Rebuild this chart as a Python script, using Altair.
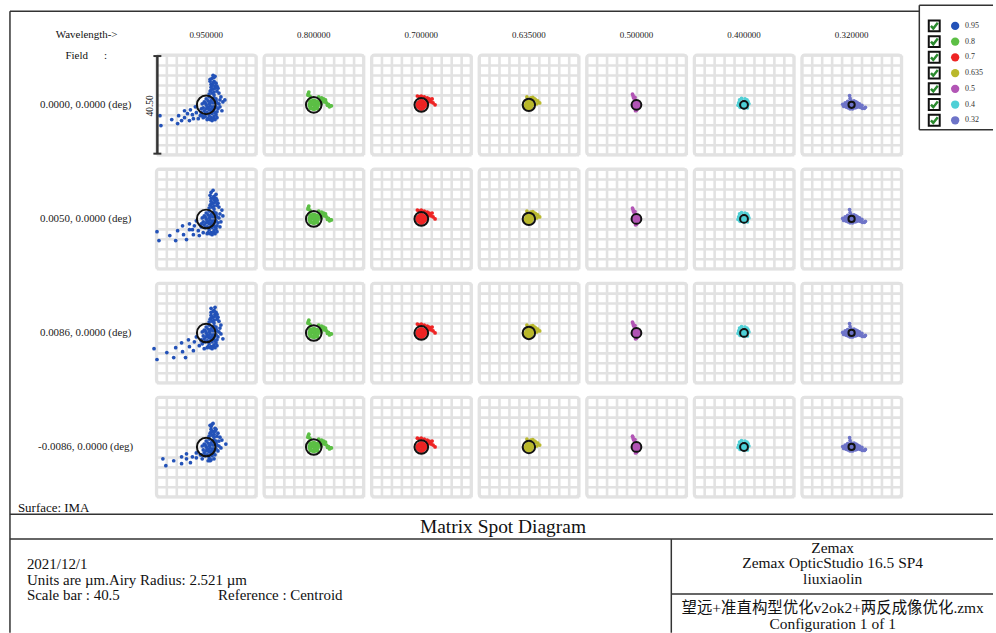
import altair as alt
import pandas as pd

# ---------------------------------------------------------------- data
WAVELENGTHS = [0.95, 0.8, 0.7, 0.635, 0.5, 0.4, 0.32]
WAVE_HEADERS = [f"{w:.6f}" for w in WAVELENGTHS]
LEGEND_LABELS = ["0.95", "0.8", "0.7", "0.635", "0.5", "0.4", "0.32"]
SPOT_COLORS = ["#2352b8", "#5cbf45", "#ee2424", "#b9b82c", "#b255b5", "#4fd0d6", "#6e74c8"]
FIELDS = [
    "0.0000, 0.0000 (deg)",
    "0.0050, 0.0000 (deg)",
    "0.0086, 0.0000 (deg)",
    "-0.0086, 0.0000 (deg)",
]

SCALE_BAR = 40.5      # µm spanned by one box
AIRY_RADIUS = 2.521   # µm at the primary wavelength
PRIMARY_WL = 0.635

# ray intercepts (x, y) in µm relative to the centroid, 0.95 µm, one list per field
SPOTS_095 = [
    [(-18.4, -8.4), (-18.8, -4.4), (-14.0, -6.0), (-11.6, -7.6), (-11.2, -4.4), (-8.8, -2.4),
     (-8.8, -5.2), (-6.8, -6.4), (-6.4, -2.0), (-5.6, -4.0), (-4.4, -0.8), (-4.0, -3.2),
     (-2.4, -4.4), (-2.0, -1.6), (-1.2, -5.2), (-3.2, -5.6), (-7.6, -3.6), (-10.0, -6.4),
     (-5.2, -5.6), (0.0, 0.0), (0.8, -1.2), (1.6, 0.8), (2.0, -2.0), (2.4, -3.6), (1.2, -4.4),
     (3.2, -4.8), (4.0, -4.0), (0.4, -3.2), (-0.8, -2.4), (2.8, -0.8), (3.6, 1.2), (2.4, 2.4),
     (1.2, 3.2), (3.2, 4.0), (4.0, 2.4), (4.8, -1.6), (5.2, 0.4), (4.4, -5.2), (2.0, -5.2),
     (-0.4, -4.8), (1.6, -0.4), (0.8, 1.6), (2.8, 0.8), (1.6, 5.6), (2.8, 6.4), (3.6, 7.6),
     (2.0, 8.4), (3.2, 9.6), (2.4, 10.8), (1.6, 10.4), (4.0, 8.8), (4.8, 6.8), (5.2, 4.8),
     (6.0, 3.2), (6.8, 1.2), (5.6, -0.8), (6.4, -2.4), (7.6, 2.0), (2.0, 7.2), (1.2, 4.4),
     (4.4, 5.6), (3.6, 11.6), (2.4, 8.0),
     (0.4, -0.8), (1.2, -2.0), (2.0, -3.0), (3.0, -2.4), (3.6, -3.2), (4.4, -2.8), (0.8, -5.6),
     (1.6, -6.0), (2.8, -5.6), (3.6, -6.0), (-1.2, -1.2), (-1.6, 0.4), (-0.8, 1.2), (0.0, 2.4),
     (-0.4, -3.6), (1.2, -1.6), (2.4, 4.8), (3.2, 5.2), (2.0, 6.0), (3.6, 6.8), (2.8, 8.8),
     (4.4, 7.6), (1.6, 9.6), (3.2, 11.2), (2.8, 12.0), (0.0, -1.6), (-0.4, 0.8), (1.2, 0.4),
     (2.4, -1.2), (3.2, -1.6), (4.0, -0.8), (4.4, 0.8), (3.2, 2.8), (2.0, 1.6), (-2.0, -3.2),
     (-1.6, -4.4), (0.4, -6.0), (2.4, -6.4), (4.0, 1.6), (5.6, 2.0)],
    [(-20.0, -5.2), (-19.2, -8.8), (-14.8, -6.8), (-12.4, -8.8), (-11.6, -4.8), (-9.6, -2.8),
     (-9.2, -6.4), (-8.0, -8.4), (-6.8, -2.0), (-6.8, -4.4), (-5.2, -6.4), (-4.8, -2.8),
     (-4.0, -0.8), (-3.2, -4.8), (-2.8, -6.8), (-2.0, -2.0), (-1.2, -5.6), (-5.6, -4.4),
     (0.0, 0.0), (0.8, -1.2), (1.6, 0.8), (2.0, -2.0), (2.4, -3.6), (1.2, -4.4), (3.2, -4.8),
     (4.0, -4.0), (0.4, -3.2), (-0.8, -2.4), (2.8, -0.8), (3.6, 1.2), (2.4, 2.4), (1.2, 3.2),
     (3.2, 4.0), (4.0, 2.4), (4.8, -1.6), (5.2, 0.4), (4.4, -5.2), (2.0, -5.6), (1.6, -0.4),
     (0.8, 1.6), (2.8, 0.8), (1.6, 5.6), (2.8, 6.4), (3.6, 7.6), (2.0, 8.4), (3.2, 9.2),
     (2.0, 10.8), (4.0, 10.0), (4.0, 8.4), (4.8, 6.4), (5.2, 4.8), (6.4, 3.6), (6.8, 1.2),
     (6.0, -1.2), (5.6, -3.2), (2.0, 7.2), (1.2, 4.4), (4.4, 5.6), (3.2, 8.0),
     (0.4, -0.8), (1.2, -2.0), (2.0, -3.0), (3.0, -2.4), (3.6, -3.2), (4.4, -2.8), (0.8, -5.6),
     (1.6, -6.0), (2.8, -5.6), (3.6, -6.0), (-1.2, -1.2), (-1.6, 0.4), (-0.8, 1.2), (0.0, 2.4),
     (-0.4, -3.6), (1.2, -1.6), (2.4, 4.8), (3.2, 5.2), (2.0, 6.0), (3.6, 6.8), (2.8, 8.8),
     (4.4, 7.6), (1.6, 9.6), (2.8, 11.6), (0.0, -1.6), (-0.4, 0.8), (1.2, 0.4), (2.4, -1.2),
     (3.2, -1.6), (4.0, -0.8), (4.4, 0.8), (3.2, 2.8), (2.0, 1.6), (-2.0, -3.2), (0.4, -6.0),
     (2.4, -6.4), (4.0, 1.6), (5.6, 2.0)],
    [(-21.2, -6.4), (-20.0, -10.8), (-16.0, -8.0), (-13.2, -10.0), (-12.4, -6.0), (-10.0, -4.0),
     (-9.6, -7.6), (-8.4, -10.0), (-7.2, -2.8), (-6.8, -5.6), (-5.2, -7.2), (-4.8, -3.6),
     (-4.0, -1.6), (-2.8, -5.2), (-2.0, -2.8), (-0.8, -6.4), (0.0, 0.0), (0.8, -1.2), (1.6, 0.8),
     (2.0, -2.0), (2.4, -3.6), (1.2, -4.4), (3.2, -4.8), (4.0, -4.0), (0.4, -3.2), (-0.8, -2.4),
     (2.8, -0.8), (3.6, 1.2), (2.4, 2.4), (1.2, 3.2), (3.2, 4.0), (4.0, 2.4), (4.8, -1.6),
     (5.2, 0.4), (4.4, -5.2), (2.0, -5.6), (1.6, -0.4), (0.8, 1.6), (2.8, 0.8), (1.6, 5.6),
     (2.8, 6.4), (3.6, 7.6), (2.0, 8.4), (3.2, 9.2), (2.0, 10.0), (3.6, 10.4), (4.0, 8.4),
     (4.8, 6.4), (5.2, 4.8), (6.0, 3.2), (6.8, -2.4), (6.0, -0.4), (2.0, 7.2), (1.2, 4.4),
     (4.4, 5.6),
     (0.4, -0.8), (1.2, -2.0), (2.0, -3.0), (3.0, -2.4), (3.6, -3.2), (4.4, -2.8), (0.8, -5.6),
     (1.6, -6.0), (2.8, -5.6), (3.6, -6.0), (-1.2, -1.2), (-1.6, 0.4), (-0.8, 1.2), (0.0, 2.4),
     (-0.4, -3.6), (1.2, -1.6), (2.4, 4.8), (3.2, 5.2), (2.0, 6.0), (3.6, 6.8), (2.8, 8.8),
     (4.4, 7.6), (0.0, -1.6), (-0.4, 0.8), (1.2, 0.4), (2.4, -1.2), (3.2, -1.6), (4.0, -0.8),
     (4.4, 0.8), (3.2, 2.8), (2.0, 1.6), (-2.0, -3.2), (-1.6, -4.4), (0.4, -6.0), (2.4, -6.4),
     (4.0, 1.6), (5.6, 2.0)],
    [(-17.6, -4.8), (-16.4, -7.6), (-13.2, -5.6), (-10.0, -6.8), (-10.0, -4.0), (-8.0, -2.8),
     (-8.0, -4.8), (-6.4, -6.4), (-5.6, -4.0), (-4.0, -4.4), (-4.0, -2.4), (-2.4, -3.2),
     (-1.6, -4.8), (0.0, 0.0), (0.8, -1.2), (1.6, 0.8), (2.0, -2.0), (2.4, -3.6), (1.2, -4.4),
     (3.2, -4.8), (0.4, -3.2), (-0.8, -2.4), (2.8, -0.8), (3.6, 1.2), (2.4, 2.4), (1.2, 3.2),
     (3.2, 4.0), (4.0, 2.4), (4.8, -1.6), (5.2, 0.4), (2.0, -5.2), (1.6, -0.4), (0.8, 1.6),
     (2.8, 0.8), (1.6, 5.6), (2.8, 6.4), (3.6, 7.6), (2.0, 8.4), (2.8, 9.6), (1.6, 8.8),
     (4.0, 7.2), (4.8, 5.6), (5.6, 4.0), (6.4, 2.8), (8.0, 1.2), (6.0, -0.4), (2.0, 7.2),
     (1.2, 4.4), (4.4, 4.4),
     (0.4, -0.8), (1.2, -2.0), (2.0, -3.0), (3.0, -2.4), (3.6, -3.2), (0.8, -5.6), (1.6, -5.6),
     (-1.2, -1.2), (-1.6, 0.4), (-0.8, 1.2), (0.0, 2.4), (-0.4, -3.6), (1.2, -1.6), (2.4, 4.8),
     (3.2, 5.2), (2.0, 6.0), (3.6, 6.4), (2.4, 9.2), (0.0, -1.6), (-0.4, 0.8), (1.2, 0.4),
     (2.4, -1.2), (3.2, -1.6), (4.0, -0.8), (4.4, 0.8), (3.2, 2.8), (2.0, 1.6), (-2.0, -3.2),
     (4.0, 1.6), (5.2, 2.4)],
]

# ray intercepts (x, y) in µm relative to the centroid for the shorter wavelengths
SPOTS_BY_WAVE = {
    0.8: [(0.0, 0.0), (0.8, 0.2), (-0.8, 0.2), (0.2, 0.9), (0.2, -0.9), (1.2, 1.0), (-1.1, 1.0),
          (1.2, -1.0), (-1.1, -1.1), (1.8, 0.0), (-1.8, 0.0), (0.0, 1.8), (0.0, -1.8), (1.6, -1.6),
          (-1.6, 1.6), (0.6, 1.6), (-0.6, 1.6), (0.6, -1.6), (-0.6, -1.6), (1.6, 0.6), (1.6, -0.6),
          (-1.6, 0.6), (-1.6, -0.6), (-1.4, -1.4), (1.4, 1.4),
          (2.0, 3.2), (3.2, 2.8), (4.0, 2.4), (4.8, 2.0), (5.2, 0.8), (6.0, 0.2),
          (6.8, -0.4), (7.2, -0.4), (6.4, -0.8), (5.6, -0.2), (4.4, 1.2), (3.6, 1.6), (2.6, 2.0),
          (-2.0, 5.2), (-2.4, 4.0), (-1.6, 3.6), (-2.2, 4.6), (-1.2, 3.0), (2.4, 0.8), (3.0, 0.4)],
    0.7: [(0.0, 0.0), (0.8, 0.2), (-0.8, 0.2), (0.2, 0.9), (0.2, -0.9), (1.1, 1.0), (-1.1, 1.0),
          (1.1, -1.0), (-1.1, -1.0), (1.7, 0.0), (-1.7, 0.0), (0.0, 1.7), (0.0, -1.7),
          (0.6, 1.5), (-0.6, 1.5), (0.6, -1.5), (-0.6, -1.5), (1.5, 0.6), (1.5, -0.6),
          (-1.5, 0.6), (-1.5, -0.6),
          (-1.6, 3.6), (0.0, 3.6), (-0.8, 3.2), (1.2, 3.2), (2.4, 2.8), (3.6, 2.0), (4.4, 2.4),
          (3.2, 2.4), (4.8, 0.8), (5.6, 0.0), (4.0, 1.2), (2.8, 1.2), (2.0, 2.0)],
    0.635: [(0.0, 0.0), (0.7, 0.2), (-0.7, 0.2), (0.2, 0.8), (0.2, -0.8), (1.0, 0.9), (-1.0, 0.9),
            (1.0, -0.9), (-1.0, -0.9), (1.5, 0.0), (-1.5, 0.0), (0.0, 1.5), (0.0, -1.5),
            (0.6, 1.4), (-0.6, 1.4), (0.6, -1.4), (-0.6, -1.4), (1.4, 0.6), (-1.4, -0.6),
            (-0.8, 3.2), (0.8, 2.8), (1.6, 3.0), (2.4, 2.4), (3.6, 1.6), (4.4, 0.8), (3.2, 0.4),
            (2.8, 2.0)],
    0.5: [(0.0, 0.0), (0.6, 0.2), (-0.6, 0.2), (0.2, 0.7), (0.2, -0.7), (0.9, 0.8), (-0.9, 0.8),
          (0.9, -0.8), (-0.9, -0.8), (1.3, 0.0), (-1.3, 0.0), (0.0, 1.3), (0.0, -1.3), (-0.8, 2.2),
          (-1.2, 3.0), (-1.4, 3.8), (-1.6, 4.4), (-0.6, 3.0), (0.0, -2.2), (-0.4, -2.4)],
    0.4: [(0.0, 0.0), (0.6, 0.2), (-0.6, 0.2), (0.2, 0.7), (0.2, -0.7), (0.9, 0.8), (-0.9, 0.8),
          (0.9, -0.8), (-0.9, -0.8), (1.3, 0.0), (-1.3, 0.0), (0.0, 1.3), (0.0, -1.3), (-2.2, 0.8),
          (-1.8, 2.0), (-1.0, 2.6), (0.4, 2.4), (1.6, 1.4), (2.0, 0.4), (-2.4, -0.2), (1.2, 2.0),
          (-1.6, -1.0), (1.4, -1.2)],
    0.32: [(0.0, 0.0), (0.6, 0.2), (-0.6, 0.2), (0.2, 0.7), (0.2, -0.7), (0.9, 0.8), (-0.9, 0.8),
           (0.9, -0.8), (-0.9, -0.8), (-3.6, 0.2), (-3.2, -0.6), (-2.6, 0.8), (-2.2, -0.9),
           (-1.6, 1.4), (-1.4, -1.2), (-0.8, 3.8), (-0.6, 2.6), (-0.2, 1.6), (1.4, 0.0), (1.4, -1.2),
           (2.2, -0.2), (2.8, -0.8), (3.6, -1.0), (4.4, -1.4), (5.2, -1.4), (5.6, -1.0), (4.2, -0.2),
           (3.2, 0.4), (2.4, 0.8), (1.8, 1.2), (0.4, -1.6), (-0.6, -1.6), (-2.8, 0.0), (-2.0, 0.2),
           (2.0, -1.0), (3.0, -0.2), (1.0, 1.6)],
}

# report text
REPORT_TITLE = "Matrix Spot Diagram"
REPORT_LEFT = [
    "2021/12/1",
    f"Units are µm.Airy Radius: {AIRY_RADIUS} µm",
    f"Scale bar  : {SCALE_BAR}",
]
REPORT_REFERENCE = "Reference  : Centroid"
REPORT_RIGHT_TOP = ["Zemax", "Zemax OpticStudio 16.5 SP4", "liuxiaolin"]
REPORT_RIGHT_BOTTOM = ["望远+准直构型优化v2ok2+两反成像优化.zmx", "Configuration 1 of 1"]

# ---------------------------------------------------------------- layout
CELL = 100                 # box size in px
COL_GAP, ROW_GAP = 8, 14.5
ORIGIN = (155, 52)         # page position of the first box
PAGE_W, PAGE_H = 996, 633
GRID_GRAY = "#e2e2e2"
INK = "#333333"
SERIF = "Liberation Serif, Noto Sans CJK SC, serif"


def rel(x, y):
    """Page position -> offset from the first box."""
    return x - ORIGIN[0], y - ORIGIN[1]


records = []
first = dict(field=FIELDS[0], wave=WAVE_HEADERS[0])

for fi, field in enumerate(FIELDS):
    for wi, w in enumerate(WAVELENGTHS):
        pts = SPOTS_095[fi] if wi == 0 else SPOTS_BY_WAVE[w]
        for x, y in pts:
            records.append(dict(kind="spot", field=field, wave=WAVE_HEADERS[wi],
                                wl=LEGEND_LABELS[wi], x=x, y=y))
        airy_px = 2 * AIRY_RADIUS * w / PRIMARY_WL * CELL / SCALE_BAR
        records.append(dict(kind="airy", field=field, wave=WAVE_HEADERS[wi],
                            x=0.0, y=0.0, asize=airy_px ** 2))
    records.append(dict(kind="rowlabel", field=field, wave=WAVE_HEADERS[0]))
for wh in WAVE_HEADERS:
    records.append(dict(kind="collabel", field=FIELDS[0], wave=wh))

# frame and scale-bar strokes (page coordinates) with widths
rules = [
    (8, 8, 921, 8, 1.5), (8, 8, 8, 632, 1.5),
    (8, 513, 995, 513, 1.5), (8, 538, 995, 538, 1.5),
    (672, 538, 672, 632, 1.5), (672, 593, 995, 593, 1.5),
    (921, 2, 921, 127, 1.5), (921, 127, 995, 127, 1.5), (921, 2, 995, 2, 1.5),
    (156, 53, 156, 151, 2.5), (152, 53, 160, 53, 2), (152, 151, 160, 151, 2),
]
for x1, y1, x2, y2, sw in rules:
    a, b = rel(x1, y1)
    c, d = rel(x2, y2)
    records.append(dict(kind="rule", px=a, py=b, px2=c, py2=d, sw=sw, **first))

texts = [
    ("Wavelength->", 85, 32, 11, "center"),
    ("Field", 75, 53, 11, "center"),
    (":", 104, 53, 11, "center"),
    ("Surface: IMA", 16, 507, 13, "left"),
    (REPORT_TITLE, 503, 526, 19.5, "center"),
    (REPORT_REFERENCE, 217, 594.5, 15, "left"),
]
for i, t in enumerate(REPORT_LEFT):
    texts.append((t, 25, 563.5 + 15.5 * i, 15, "left"))
for i, t in enumerate(REPORT_RIGHT_TOP):
    texts.append((t, 834, 547 + 15.5 * i, 15.5, "center"))
for i, t in enumerate(REPORT_RIGHT_BOTTOM):
    texts.append((t, 834, 607 + 16 * i, 15.5, "center"))
for t, x, y, fs, align in texts:
    a, b = rel(x, y)
    records.append(dict(kind="text_" + align, text=t, px=a, py=b, fs=fs, **first))

a, b = rel(149, 103)
records.append(dict(kind="text_rot", text=f"{SCALE_BAR:.2f}", px=a, py=b, fs=9.5, **first))

for i, lab in enumerate(LEGEND_LABELS):
    _, b = rel(0, 22.7 + 15.8 * i)
    records.append(dict(kind="legend", wl=lab, py=b, **first))

records.append(dict(kind="page", **first))

df = pd.DataFrame(records)

# ---------------------------------------------------------------- chart
half = SCALE_BAR / 2
grid_values = [-half + k * SCALE_BAR / 10 for k in range(11)]
pos_scale = alt.Scale(domain=[-half, half], nice=False, zero=False)
grid_axis = alt.Axis(values=grid_values, grid=True, labels=False, ticks=False, domain=False,
                     title=None, gridColor=GRID_GRAY, gridWidth=2.6, gridOpacity=1)
color_scale = alt.Scale(domain=LEGEND_LABELS, range=SPOT_COLORS)

base = alt.Chart()


def px(field):
    return alt.X(f"{field}:Q", scale=None, axis=None)


def py(field):
    return alt.Y(f"{field}:Q", scale=None, axis=None)


spots = base.transform_filter("datum.kind == 'spot'").mark_circle(size=14, opacity=1).encode(
    x=alt.X("x:Q", scale=pos_scale, axis=grid_axis),
    y=alt.Y("y:Q", scale=pos_scale, axis=grid_axis),
    color=alt.Color("wl:N", scale=color_scale, legend=None),
)

airy = base.transform_filter("datum.kind == 'airy'").mark_point(
    shape="circle", filled=False, color="#111111", strokeWidth=2, opacity=1
).encode(
    x=alt.X("x:Q", scale=pos_scale, axis=grid_axis),
    y=alt.Y("y:Q", scale=pos_scale, axis=grid_axis),
    size=alt.Size("asize:Q", scale=None),
)

row_labels = base.transform_filter("datum.kind == 'rowlabel'").mark_text(
    font=SERIF, fontSize=11, align="center", baseline="middle", color="#222222"
).encode(x=alt.value(84 - ORIGIN[0]), y=alt.value(CELL / 2), text="field:N")

col_labels = base.transform_filter("datum.kind == 'collabel'").mark_text(
    font=SERIF, fontSize=9, align="center", baseline="middle", color="#222222"
).encode(x=alt.value(CELL / 2), y=alt.value(32 - ORIGIN[1]), text="wave:N")

strokes = base.transform_filter("datum.kind == 'rule'").mark_rule(color=INK).encode(
    x=px("px"), x2="px2:Q", y=py("py"), y2="py2:Q",
    strokeWidth=alt.StrokeWidth("sw:Q", scale=None),
)


def text_layer(kind, align, **kw):
    return base.transform_filter(f"datum.kind == '{kind}'").mark_text(
        font=SERIF, align=align, baseline="middle", color="#111111", **kw
    ).encode(x=px("px"), y=py("py"), text="text:N", size=alt.Size("fs:Q", scale=None))


notes_left = text_layer("text_left", "left")
notes_center = text_layer("text_center", "center")
notes_rot = text_layer("text_rot", "center", angle=270)

legend_rows = base.transform_filter("datum.kind == 'legend'")
CHECK_PATH = "M -0.7 0.0 L -0.2 0.55 L 0.75 -0.65"
legend_box = legend_rows.mark_point(
    shape="square", filled=True, fill="white", stroke="#111111", strokeWidth=2, size=121, opacity=1
).encode(x=alt.value(936 - ORIGIN[0]), y=py("py"))
legend_check = legend_rows.mark_point(
    shape=CHECK_PATH, filled=False, stroke="#2a8a2e", strokeWidth=2.5, size=90, opacity=1
).encode(x=alt.value(936 - ORIGIN[0]), y=py("py"))
legend_dot = legend_rows.mark_circle(size=70, opacity=1).encode(
    x=alt.value(957 - ORIGIN[0]), y=py("py"),
    color=alt.Color("wl:N", scale=color_scale, legend=None),
)
legend_text = legend_rows.mark_text(
    font=SERIF, fontSize=8, align="left", baseline="middle", color="#333333"
).encode(x=alt.value(967 - ORIGIN[0]), y=py("py"), text="wl:N")

page = base.transform_filter("datum.kind == 'page'").mark_rect(opacity=0).encode(
    x=alt.value(-ORIGIN[0]), x2=alt.value(PAGE_W - ORIGIN[0]),
    y=alt.value(-ORIGIN[1]), y2=alt.value(PAGE_H - ORIGIN[1]),
)

panel = alt.layer(
    page, spots, airy, row_labels, col_labels, strokes, notes_left, notes_center, notes_rot,
    legend_box, legend_check, legend_dot, legend_text,
    data=df,
).properties(width=CELL, height=CELL)

chart = panel.facet(
    row=alt.Row("field:N", sort=FIELDS, header=None),
    column=alt.Column("wave:N", sort=WAVE_HEADERS, header=None),
    spacing={"row": ROW_GAP, "column": COL_GAP},
).properties(
    bounds="flush", padding=0, background="white"
).configure_view(
    stroke=GRID_GRAY, strokeWidth=3, cornerRadius=3, fill="white"
)

chart.save("out.html", embed_options={"renderer": "svg", "actions": False})
